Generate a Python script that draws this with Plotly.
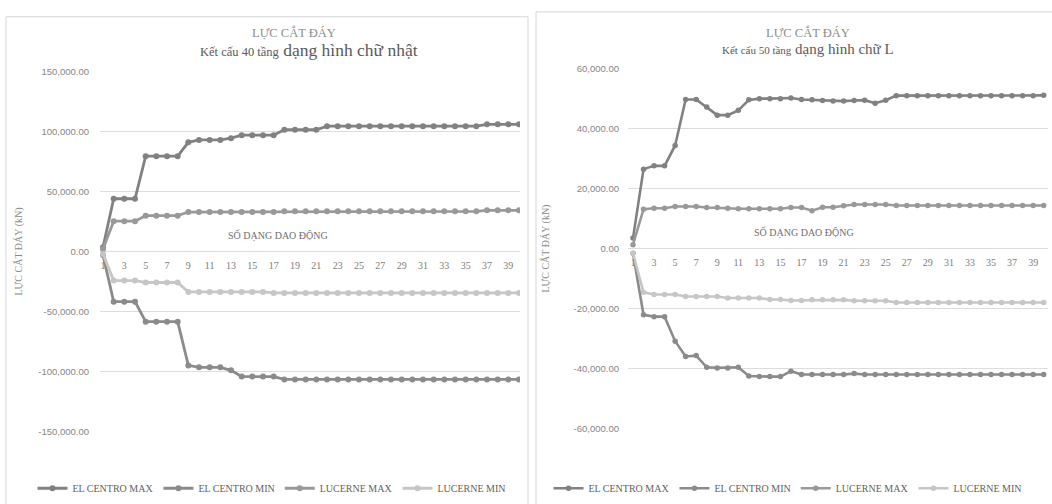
import plotly.graph_objects as go

# Mode numbers on the category axis
categories = list(range(1, 41))
tick_categories = categories[::2]

series_names = ["EL CENTRO MAX", "EL CENTRO MIN", "LUCERNE MAX", "LUCERNE MIN"]
series_colors = ["#818181", "#8b8b8b", "#999999", "#c6c6c6"]

# Base shear (kN) - 40-storey rectangular structure
el_centro_max_40 = [3500, 44000, 44000, 44000, 79500, 79500, 79500, 79500, 91000, 93000,
                    93000, 93000, 94500, 97000, 97000, 97000, 97000, 101500, 101500, 101500,
                    101500, 104500, 104500, 104500, 104500, 104500, 104500, 104500, 104500, 104500,
                    104500, 104500, 104500, 104500, 104500, 104500, 106000, 106000, 106000, 106000]
el_centro_min_40 = [-3000, -41800, -41800, -41800, -58500, -58500, -58500, -58500, -94900, -96500,
                    -96500, -96500, -99000, -104200, -104200, -104200, -104200, -106600, -106600, -106600,
                    -106600, -106600, -106600, -106600, -106600, -106600, -106600, -106600, -106600, -106600,
                    -106600, -106600, -106600, -106600, -106600, -106600, -106600, -106600, -106600, -106600]
lucerne_max_40 = [2000, 25300, 25300, 25300, 29900, 29900, 29900, 29900, 32900, 32900,
                  32900, 32900, 32900, 32900, 32900, 32900, 32900, 33500, 33500, 33500,
                  33500, 33500, 33500, 33500, 33500, 33500, 33500, 33500, 33500, 33500,
                  33500, 33500, 33500, 33500, 33500, 33500, 34300, 34300, 34300, 34300]
lucerne_min_40 = [-2000, -24200, -24200, -24200, -25800, -25800, -25800, -25800, -33700, -33700,
                  -33700, -33700, -33700, -33700, -33700, -33700, -34500, -34500, -34500, -34500,
                  -34500, -34500, -34500, -34500, -34500, -34500, -34500, -34500, -34500, -34500,
                  -34500, -34500, -34500, -34500, -34500, -34500, -34500, -34500, -34500, -34500]

# Base shear (kN) - 50-storey L-shaped structure
el_centro_max_50 = [3600, 26600, 27700, 27700, 34500, 49800, 49800, 47300, 44600, 44600,
                    46200, 49700, 50100, 50100, 50100, 50300, 49800, 49700, 49500, 49300,
                    49300, 49500, 49600, 48600, 49600, 51100, 51100, 51100, 51100, 51100,
                    51100, 51100, 51100, 51100, 51100, 51100, 51100, 51100, 51100, 51200]
el_centro_min_50 = [-1500, -22000, -22600, -22600, -30800, -35900, -35600, -39500, -39700, -39700,
                    -39500, -42400, -42600, -42600, -42600, -40800, -41900, -41900, -41900, -41900,
                    -41900, -41600, -41900, -41900, -41900, -41900, -41900, -41900, -41900, -41900,
                    -41900, -41900, -41900, -41900, -41900, -41900, -41900, -41900, -41900, -41900]
lucerne_max_50 = [1400, 13250, 13570, 13570, 14130, 14130, 14130, 13800, 13800, 13570,
                  13380, 13380, 13380, 13380, 13380, 13800, 13800, 12720, 13900, 13900,
                  14350, 14780, 14780, 14780, 14780, 14450, 14450, 14450, 14450, 14450,
                  14450, 14450, 14450, 14450, 14450, 14450, 14450, 14450, 14450, 14450]
lucerne_min_50 = [-1500, -14500, -15200, -15200, -15200, -15900, -15900, -15900, -15900, -16400,
                  -16400, -16400, -16400, -16900, -16900, -17200, -17200, -17000, -17000, -17000,
                  -17000, -17300, -17300, -17300, -17300, -17900, -17900, -17900, -17900, -17900,
                  -17900, -17900, -17900, -17900, -17900, -17900, -17900, -17900, -17900, -17900]

y_ticks_40 = [150000, 100000, 50000, 0, -50000, -100000, -150000]
y_ticks_50 = [60000, 40000, 20000, 0, -20000, -40000, -60000]

panel_titles = ["LỰC CẮT ĐÁY", "LỰC CẮT ĐÁY"]
panel_subtitles = [("Kết cấu 40 tầng", "dạng hình chữ nhật"), ("Kết cấu 50 tầng", "dạng hình chữ L")]
x_title = "SỐ DẠNG DAO ĐỘNG"
y_title = "LỰC CẮT ĐÁY (kN)"

W, H = 1052, 504
SERIF = "Liberation Serif, Times New Roman, serif"
SANS = "Liberation Sans, Arial, sans-serif"


def px_x(v):
    return v / W


def px_y(v):
    return 1 - v / H


def fmt(v):
    return f"{v:,.2f}"


fig = go.Figure()

left_series = [el_centro_max_40, el_centro_min_40, lucerne_max_40, lucerne_min_40]
right_series = [el_centro_max_50, el_centro_min_50, lucerne_max_50, lucerne_min_50]

for name, color, values in zip(series_names, series_colors, left_series):
    fig.add_trace(go.Scatter(
        x=categories, y=values, name=name, mode="lines+markers",
        line=dict(color=color, width=2.8), marker=dict(color=color, size=6),
        xaxis="x", yaxis="y", legend="legend"))

for name, color, values in zip(series_names, series_colors, right_series):
    fig.add_trace(go.Scatter(
        x=categories, y=values, name=name, mode="lines+markers",
        line=dict(color=color, width=2.6), marker=dict(color=color, size=5.5),
        xaxis="x2", yaxis="y2", legend="legend2"))

# Plot-area geometry (pixels)
L_X0, L_X1 = 100, 520
L_Y_TOP, L_Y_BOT = 67, 435
L_STEP = 416 / 39
R_X0, R_X1 = 628, 1048
R_Y_TOP, R_Y_BOT = 64.4, 432.2
R_STEP = 10.53

x_common = dict(
    tickmode="array", tickvals=tick_categories, ticktext=[str(c) for c in tick_categories],
    showgrid=False, zeroline=False, showline=False,
    ticks="outside", ticklen=4, tickcolor="rgba(0,0,0,0)",
    tickfont=dict(family=SERIF, size=10, color="#7c7c7c"),
    anchor="free", fixedrange=True,
)
y_common = dict(
    tickmode="array", showgrid=True, gridcolor="#dcdcdc", gridwidth=1,
    zeroline=False, showline=False, ticks="",
    tickfont=dict(family=SANS, size=9.5, color="#858585"),
    fixedrange=True,
)

legend_common = dict(
    orientation="h", xanchor="center", y=px_y(493), yanchor="middle",
    font=dict(family=SERIF, size=10, color="#5f5f5f"), itemwidth=30,
    bgcolor="rgba(0,0,0,0)", tracegroupgap=0,
)

fig.update_layout(
    width=W, height=H,
    margin=dict(l=0, r=0, t=0, b=0),
    paper_bgcolor="white", plot_bgcolor="white",
    xaxis=dict(**x_common,
               domain=[px_x(L_X0), px_x(L_X1)],
               range=[1 - 3 / L_STEP, 40 + 1 / L_STEP],
               position=1 - (L_Y_TOP + L_Y_BOT) / 2 / H),
    yaxis=dict(**y_common, anchor="x",
               domain=[px_y(L_Y_BOT), px_y(L_Y_TOP)],
               range=[-150000, 150000],
               tickvals=y_ticks_40, ticktext=[fmt(v) for v in y_ticks_40],
               ticklabelstandoff=10),
    xaxis2=dict(**x_common,
                domain=[px_x(R_X0), px_x(R_X1)],
                range=[1 - 5 / R_STEP, 1 + (R_X1 - 633) / R_STEP],
                position=1 - (R_Y_TOP + R_Y_BOT) / 2 / H),
    yaxis2=dict(**y_common, anchor="x2",
                domain=[px_y(R_Y_BOT), px_y(R_Y_TOP)],
                range=[-60000, 60000],
                tickvals=y_ticks_50, ticktext=[fmt(v) for v in y_ticks_50],
                ticklabelstandoff=8),
    legend=dict(**legend_common, x=px_x(272)),
    legend2=dict(**legend_common, x=px_x(788)),
    showlegend=True,
)

# Chart frames
fig.add_shape(type="rect", xref="paper", yref="paper",
              x0=px_x(6), x1=px_x(528), y0=-0.05, y1=px_y(11),
              line=dict(color="#d6d6d6", width=1), layer="below")
fig.add_shape(type="rect", xref="paper", yref="paper",
              x0=px_x(536), x1=1.05, y0=-0.05, y1=px_y(6),
              line=dict(color="#d6d6d6", width=1), layer="below")

annotations = []
title_styles = [
    # (title x, title y, title size, subtitle x, subtitle y, small size, big size)
    (294, 27, 12.5, 309, 45, 12.5, 17.5),
    (808, 27, 12.5, 808, 44, 11, 15),
]
for title, (sub_small, sub_big), (tx, ty, ts, sx, sy, ss, sb) in zip(panel_titles, panel_subtitles, title_styles):
    annotations.append(dict(
        text=title, x=px_x(tx), y=px_y(ty), xref="paper", yref="paper",
        xanchor="center", yanchor="middle", showarrow=False,
        font=dict(family=SERIF, size=ts, color="#8c8c8c")))
    annotations.append(dict(
        text=f"<span style='font-size:{ss}px'>{sub_small}</span> {sub_big}",
        x=px_x(sx), y=px_y(sy), xref="paper", yref="paper",
        xanchor="center", yanchor="middle", showarrow=False,
        font=dict(family=SERIF, size=sb, color="#5a5a5a")))

for ax, ay in [(278, 235), (804, 232)]:
    annotations.append(dict(
        text=x_title, x=px_x(ax), y=px_y(ay), xref="paper", yref="paper",
        xanchor="center", yanchor="middle", showarrow=False,
        font=dict(family=SERIF, size=10, color="#6e6e6e")))

for ax, ay in [(19, 251), (546, 248)]:
    annotations.append(dict(
        text=y_title, x=px_x(ax), y=px_y(ay), xref="paper", yref="paper",
        xanchor="center", yanchor="middle", showarrow=False, textangle=-90,
        font=dict(family=SERIF, size=10, color="#8a8a8a")))

fig.update_layout(annotations=annotations)

fig.write_html("out.html")
